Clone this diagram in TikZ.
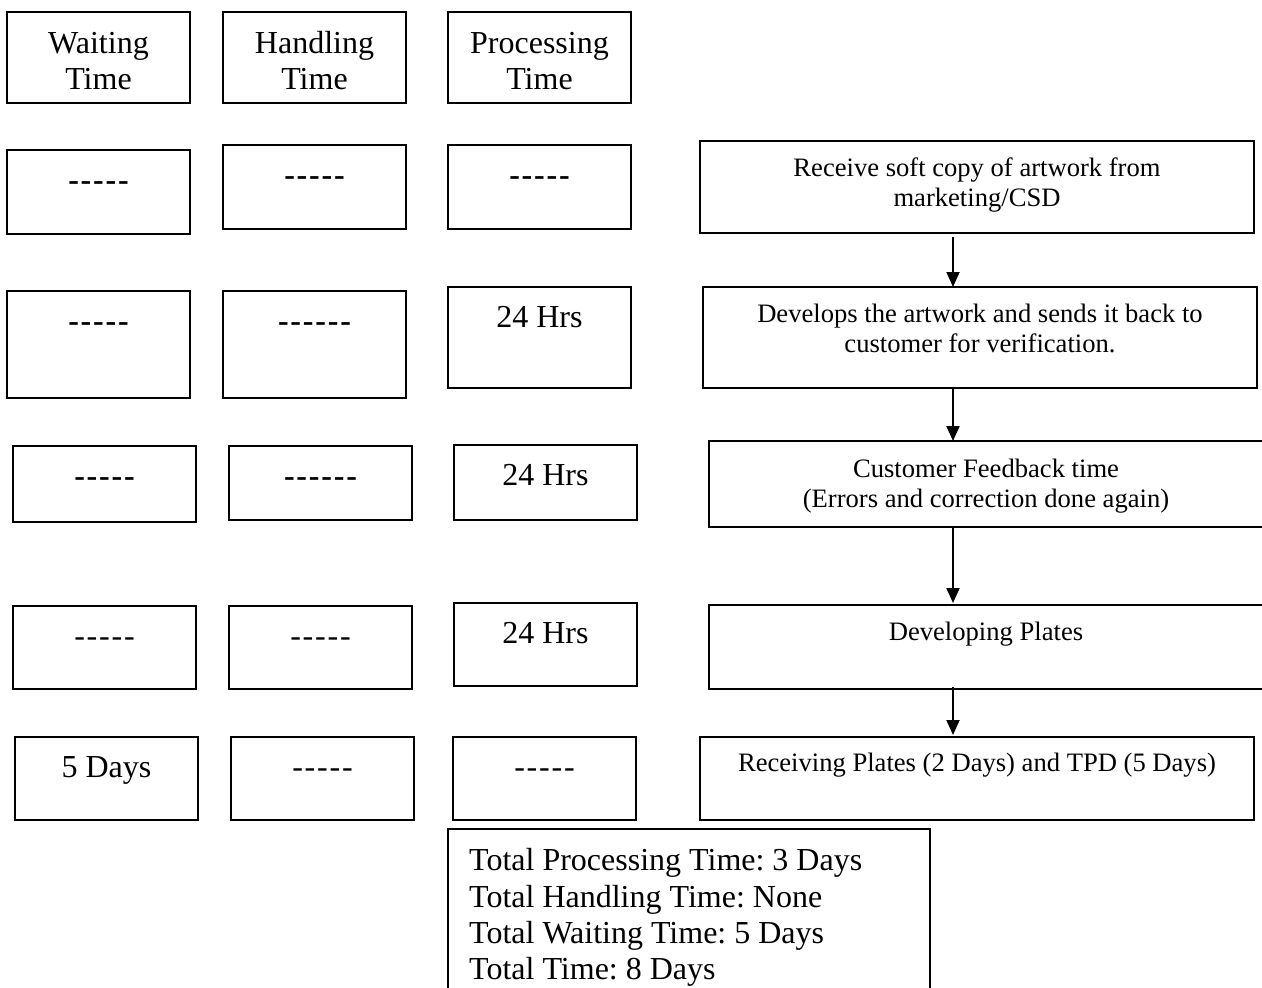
\documentclass[tikz,border=0pt]{standalone}
\usepackage{fontspec}
\setmainfont{Liberation Serif}
\usetikzlibrary{arrows.meta}
\frenchspacing

\tikzset{
  headbox/.style={draw, line width=1.6pt, inner sep=0pt, outer sep=0pt},
  cellbox/.style={draw, line width=1.1pt, inner sep=0pt, outer sep=0pt},
  stepbox/.style={draw, line width=1.8pt, inner sep=0pt, outer sep=0pt},
  sumbox/.style={draw, line width=1.5pt, inner sep=0pt, outer sep=0pt},
  bigtxt/.style={font=\fontsize{32}{36}\selectfont, inner sep=0pt, anchor=base},
  boldtxt/.style={font=\fontsize{32}{36}\selectfont\bfseries, inner sep=0pt, anchor=base},
  steptxt/.style={font=\fontsize{26.6}{30}\selectfont, inner sep=0pt, anchor=base},
  sumtxt/.style={font=\fontsize{32}{36}\selectfont, inner sep=0pt, anchor=base west},
  flow/.style={line width=2pt, -{Triangle[length=15pt,width=13pt]}},
}

% hyphens kept apart so they do not join into dashes
\newcommand\fivedash{-\kern1.8pt-\kern1.8pt-\kern1.8pt-\kern1.8pt-}
\newcommand\sixdash{-\kern1.8pt-\kern1.8pt-\kern1.8pt-\kern1.8pt-\kern1.8pt-}

% rectangle node from its corners: style, name, x1, y1, x2, y2
\newcommand\mkbox[6]{%
  \node[#1, minimum width={#5-#3}, minimum height={#6-#4}] (#2)
    at ({(#3+#5)/2},{(#4+#6)/2}) {};}
% table cell with one line of text near its top: style of text, name, x1, y1, x2, y2, text
\newcommand\mkcell[7]{%
  \mkbox{cellbox}{#2}{#3}{#4}{#5}{#6}%
  \node[#1] (#2t) at ({(#3+#5)/2},{#4+40}) {#7};}

\begin{document}
\begin{tikzpicture}[x=1pt, y=-1pt]
\useasboundingbox (0,0) rectangle (1262,988);
\clip (0,0) rectangle (1262,988);

% column headers
\mkbox{headbox}{hw}{7}{12}{190}{103}
\mkbox{headbox}{hh}{223}{12}{406}{103}
\mkbox{headbox}{hp}{448}{12}{631}{103}
\node[bigtxt] (hwa) at (98.5,53) {Waiting};
\node[bigtxt] (hwb) at (98.5,89) {Time};
\node[bigtxt] (hha) at (314.5,53) {Handling};
\node[bigtxt] (hhb) at (314.5,89) {Time};
\node[bigtxt] (hpa) at (539.5,53) {Processing};
\node[bigtxt] (hpb) at (539.5,89) {Time};

% time cells, one row per step
\mkcell{boldtxt}{w1}{7}{150}{190}{234}{\fivedash}
\mkcell{boldtxt}{h1}{223}{145}{406}{229}{\fivedash}
\mkcell{boldtxt}{p1}{448}{145}{631}{229}{\fivedash}

\mkcell{boldtxt}{w2}{7}{291}{190}{398}{\fivedash}
\mkcell{boldtxt}{h2}{223}{291}{406}{398}{\sixdash}
\mkcell{bigtxt}{p2}{448}{287}{631}{388}{24 Hrs}

\mkcell{boldtxt}{w3}{13}{446}{196}{522}{\fivedash}
\mkcell{boldtxt}{h3}{229}{446}{412}{520}{\sixdash}
\mkcell{bigtxt}{p3}{454}{445}{637}{520}{24 Hrs}

\mkcell{bigtxt}{w4}{13}{606}{196}{689}{\fivedash}
\mkcell{bigtxt}{h4}{229}{606}{412}{689}{\fivedash}
\mkcell{bigtxt}{p4}{454}{603}{637}{686}{24 Hrs}

\mkcell{bigtxt}{w5}{15}{737}{198}{820}{5 Days}
\mkcell{bigtxt}{h5}{231}{737}{414}{820}{\fivedash}
\mkcell{bigtxt}{p5}{453}{737}{636}{820}{\fivedash}

% process steps
\mkbox{stepbox}{s1}{700}{141}{1254}{233}
\mkbox{stepbox}{s2}{703}{287}{1257}{388}
\mkbox{stepbox}{s3}{709}{441}{1265}{527}
\mkbox{stepbox}{s4}{709}{605}{1265}{689}
\mkbox{stepbox}{s5}{700}{737}{1254}{820}

\node[steptxt] (s1a) at (977,176) {Receive soft copy of artwork from};
\node[steptxt] (s1b) at (977,206) {marketing/CSD};
\node[steptxt] (s2a) at (980,322) {Develops the artwork and sends it back to};
\node[steptxt] (s2b) at (980,352) {customer for verification.};
\node[steptxt] (s3a) at (986,477) {Customer Feedback time};
\node[steptxt] (s3b) at (986,507) {(Errors and correction done again)};
\node[steptxt] (s4a) at (986,640) {Developing Plates};
\node[steptxt] (s5a) at (977,771) {Receiving Plates (2 Days) and TPD (5 Days)};

% flow arrows
\coordinate (ax) at (953,0);
\draw[flow] ([yshift=-4pt]ax |- s1.south) -- (ax |- s2.north);
\draw[flow] (ax |- s2.south) -- (ax |- s3.north);
\draw[flow] (ax |- s3.south) -- ([yshift=2pt]ax |- s4.north);
\draw[flow] ([yshift=2pt]ax |- s4.south) -- ([yshift=2pt]ax |- s5.north);

% totals
\mkbox{sumbox}{tot}{448}{829}{930}{1010}
\node[sumtxt] (t1) at (469,870) {Total Processing Time: 3 Days};
\node[sumtxt] (t2) at (469,907) {Total Handling Time: None};
\node[sumtxt] (t3) at (469,943) {Total Waiting Time: 5 Days};
\node[sumtxt] (t4) at (469,979) {Total Time: 8 Days};
\end{tikzpicture}
\end{document}
